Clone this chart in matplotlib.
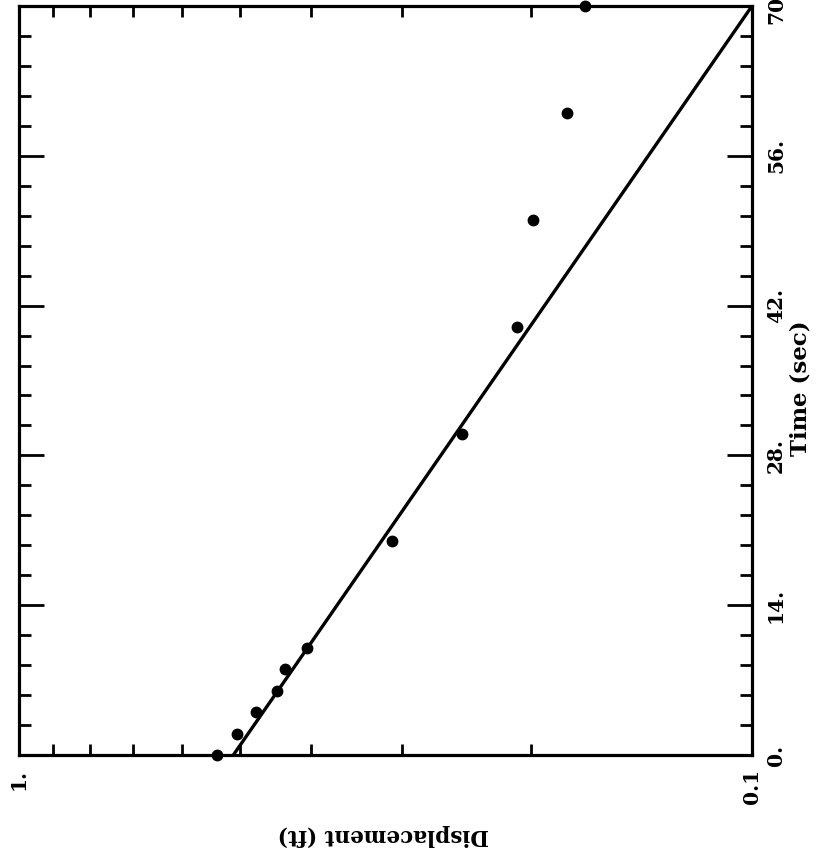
import matplotlib
matplotlib.use("Agg")
import matplotlib.pyplot as plt
from matplotlib.ticker import FixedLocator, FixedFormatter, NullFormatter

# Data (slug-test recovery): time in seconds, displacement in feet
time_sec = [0, 2, 4, 6, 8, 10, 20, 30, 40, 50, 60, 70]
displacement_ft = [0.537, 0.504, 0.475, 0.445, 0.434, 0.405, 0.310, 0.249, 0.209, 0.199, 0.179, 0.169]

# Fitted straight line (semi-log)
fit_time = [0, 70]
fit_disp = [0.51, 0.10]

disp_major = [1.0, 0.1]
disp_major_labels = ["1.", "0.1"]
disp_minor = [0.2, 0.3, 0.4, 0.5, 0.6, 0.7, 0.8, 0.9]
time_major = [0, 14, 28, 42, 56, 70]
time_major_labels = ["0.", "14.", "28.", "42.", "56.", "70."]
time_minor = [2.8 * i for i in range(26) if i % 5 != 0]

plt.rcParams['font.family'] = ['DejaVu Serif']
plt.rcParams['font.weight'] = 'bold'

W, H = 817, 857
fig = plt.figure(figsize=(W / 100, H / 100), dpi=100)
ax = fig.add_axes([19 / W, 1 - 755 / H, (752 - 19) / W, (755 - 6) / H])

ax.set_xscale('log')
ax.set_xlim(1.0, 0.1)
ax.set_ylim(0, 70)

ax.plot(fit_disp, fit_time, color='black', lw=2.4, solid_capstyle='butt')
ax.plot(displacement_ft, time_sec, 'o', color='black', ms=7.5, clip_on=False, zorder=5)

for s in ax.spines.values():
    s.set_linewidth(2.3)

ax.xaxis.set_major_locator(FixedLocator(disp_major))
ax.xaxis.set_major_formatter(FixedFormatter(disp_major_labels))
ax.xaxis.set_minor_locator(FixedLocator(disp_minor))
ax.xaxis.set_minor_formatter(NullFormatter())
ax.tick_params(axis='x', which='both', direction='in', top=True, bottom=True, width=2)
ax.tick_params(axis='x', which='major', length=0, pad=10, labelsize=14.5)
ax.tick_params(axis='x', which='minor', length=8)
for lab in ax.get_xticklabels():
    lab.set_rotation(90)
    lab.set_va('top')
    lab.set_ha('center')
    lab.set_fontweight('bold')

ax.yaxis.set_major_locator(FixedLocator(time_major))
ax.yaxis.set_major_formatter(FixedFormatter(time_major_labels))
ax.yaxis.set_minor_locator(FixedLocator(time_minor))
ax.yaxis.set_minor_formatter(NullFormatter())
ax.tick_params(axis='y', which='both', direction='in', left=True, right=True,
               labelleft=False, labelright=True, width=2)
ax.tick_params(axis='y', which='major', length=18, pad=10, labelsize=14.5)
ax.tick_params(axis='y', which='minor', length=8.5)
for lab in ax.get_yticklabels():
    lab.set_rotation(90)
    lab.set_va('center')
    lab.set_fontweight('bold')

fig.text(801 / W, 1 - 388 / H, "Time (sec)", rotation=90, ha='center', va='center',
         fontsize=16.5, fontweight='bold')
fig.text(383 / W, 1 - 835 / H, "Displacement (ft)", rotation=180, ha='center', va='center',
         fontsize=15.5, fontweight='bold')

fig.savefig("out.png", dpi=100)
